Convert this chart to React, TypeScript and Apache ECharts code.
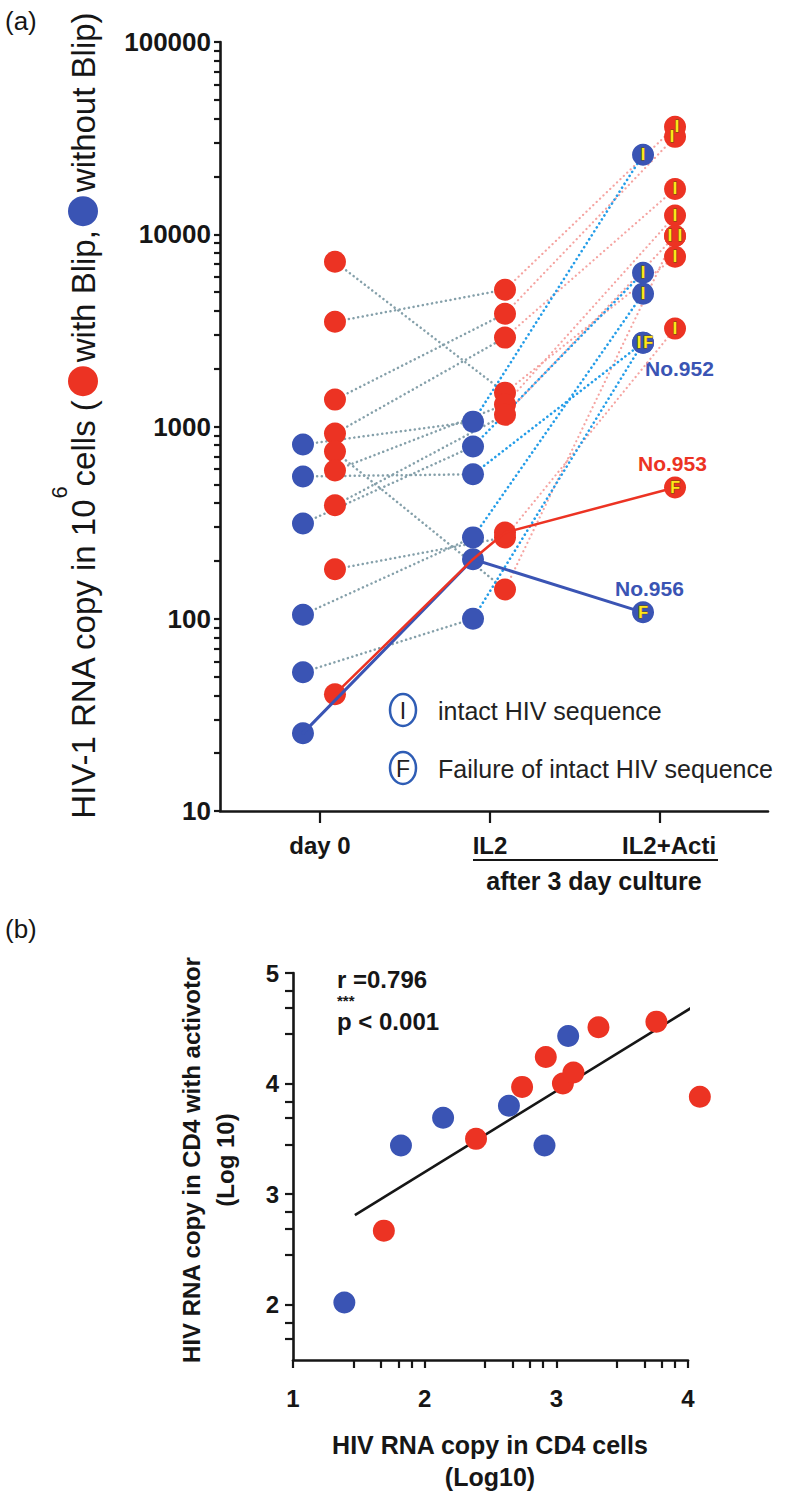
import React, { useEffect, useRef } from 'react';
import * as echarts from 'echarts';

const FONT = "'Liberation Sans', Arial, Helvetica, sans-serif";

// ---------------- Panel (a) data ----------------
const stageLabels = ['day 0', 'IL2', 'IL2+Acti'];
const stageValues = [1, 2, 3];
const aYTickLabels = [10, 100, 1000, 10000, 100000];

// patients without Blip (blue)
const blueDay0 = [806, 550, 313, 105, 52.7, 25.4];
const blueIL2 = [1060, 564, 787, 265, 100, 204];
const blueActi = [25900, 2730, 6300, 4910, 2730, 108];
const blueSeq = ['I', 'I', 'I', 'I', 'F', 'F'];

// patients with Blip (red)
const redDay0 = [7195, 3510, 1380, 920, 741, 591, 389, 181, 40.5];
const redIL2 = [1500, 5150, 3860, 2900, 142, 1300, 1150, 265, 281];
const redActi = [7640, 36200, 32100, 17200, 9800, 12500, 9800, 3230, 482];
const redSeq = ['I', 'I', 'I', 'I', 'I', 'I', 'I', 'I', 'F'];

const caseLabels = ['No.952', 'No.953', 'No.956'];
const legendLetters = ['I', 'F'];
const legendTexts = ['intact HIV sequence', 'Failure of intact HIV sequence'];
const cultureText = 'after 3 day culture';

// ---------------- Panel (b) data ----------------
const blueLogDay0 = [1.39, 1.82, 2.14, 2.64, 2.91, 3.09];
const blueLogActi = [2.02, 3.44, 3.69, 3.8, 3.44, 4.43];
const redLogDay0 = [1.69, 2.39, 2.74, 2.92, 3.05, 3.13, 3.32, 3.76, 4.09];
const redLogActi = [2.67, 3.5, 3.97, 4.24, 4.0, 4.1, 4.51, 4.56, 3.88];
const fitX = [1.47, 4.1];
const fitY = [2.81, 4.74];
const bXTickLabels = [1, 2, 3, 4];
const bYTickLabels = [2, 3, 4, 5];
const bXMinor = [0.46, 0.67, 0.8, 0.9];
const bYMinor = [0.45, 0.69, 0.84];
const statR = 'r =0.796';
const statP = 'p < 0.001';
const statStars = '***';

// ---------------- layout / style ----------------
const RED = '#ec3323';
const BLUE = '#3a54b4';
const GRAY = '#85a0aa';
const PINK = '#f5a3a0';
const SKY = '#249de8';
const YELLOW = '#ffe81a';
const INK = '#161616';

const A = { left: 220, top: 42, width: 548, height: 769, xMin: 0.412, xMax: 3.635 };
const PX_A = A.width / (A.xMax - A.xMin);
const BLUE_DX = -17 / PX_A;
const RED_DX = 15 / PX_A;
// horizontal label shifts (px) for markers that sit on top of each other
const LABEL_SHIFT_BLUE: Record<number, number> = { 1: -4, 4: 5 };
const LABEL_SHIFT_RED: Record<number, number> = { 1: 2, 2: -3, 4: -5, 6: 5 };
const B = { left: 293, top: 973, width: 395, height: 387 };

const xA = (stage: number, off: number) => stage + off;

const dotted = [0.1, 4.6];

function seg(data: any[], color: string, width: number, type: any, z: number) {
  return {
    type: 'line',
    xAxisIndex: 0,
    yAxisIndex: 0,
    data,
    symbol: 'none',
    showSymbol: false,
    silent: true,
    clip: false,
    z,
    lineStyle: { color, width, type, cap: 'round' },
  };
}

function buildOption() {
  const series: any[] = [];

  // dotted connections
  blueDay0.forEach((v, i) => {
    if (i === 5) return;
    series.push(seg([[xA(1, BLUE_DX), v], [xA(2, BLUE_DX), blueIL2[i]]], GRAY, 2.5, dotted, 1));
  });
  redDay0.forEach((v, i) => {
    if (i === 8) return;
    series.push(seg([[xA(1, RED_DX), v], [xA(2, RED_DX), redIL2[i]]], GRAY, 2.5, dotted, 1));
  });
  redIL2.forEach((v, i) => {
    if (i === 8) return;
    series.push(seg([[xA(2, RED_DX), v], [xA(3, RED_DX), redActi[i]]], PINK, 2.2, dotted, 1));
  });
  blueIL2.forEach((v, i) => {
    if (i === 5) return;
    series.push(seg([[xA(2, BLUE_DX), v], [xA(3, BLUE_DX), blueActi[i]]], SKY, 2.6, dotted, 1));
  });

  // markers day 0 / IL2
  const blueDots: any[] = [];
  blueDay0.forEach((v, i) => {
    blueDots.push([xA(1, BLUE_DX), v]);
    blueDots.push([xA(2, BLUE_DX), blueIL2[i]]);
  });
  const redDots: any[] = [];
  redDay0.forEach((v, i) => {
    redDots.push([xA(1, RED_DX), v]);
    redDots.push([xA(2, RED_DX), redIL2[i]]);
  });
  series.push({
    type: 'scatter', xAxisIndex: 0, yAxisIndex: 0, data: blueDots, symbolSize: 22,
    itemStyle: { color: BLUE, opacity: 1 }, z: 2, silent: true, clip: false,
  });
  series.push({
    type: 'scatter', xAxisIndex: 0, yAxisIndex: 0, data: redDots, symbolSize: 22,
    itemStyle: { color: RED, opacity: 1 }, z: 2, silent: true, clip: false,
  });

  // solid paths No.956 and No.953
  series.push(seg([
    [xA(1, BLUE_DX), blueDay0[5]], [xA(2, BLUE_DX), blueIL2[5]], [xA(3, BLUE_DX), blueActi[5]],
  ], BLUE, 3, 'solid', 3));
  series.push(seg([
    [xA(1, RED_DX), redDay0[8]], [xA(2, BLUE_DX), blueIL2[5]], [xA(2, RED_DX), redIL2[8]], [xA(3, RED_DX), redActi[8]],
  ], RED, 2.5, 'solid', 3));

  const seqLabel = {
    show: true, position: 'inside', formatter: '{b}', color: YELLOW, fontSize: 16, fontWeight: 'bold',
    fontFamily: FONT, textBorderColor: '#6b5200', textBorderWidth: 1,
  };
  series.push({
    type: 'scatter', xAxisIndex: 0, yAxisIndex: 0, symbolSize: 22, z: 4, silent: true, clip: false,
    itemStyle: { color: BLUE, opacity: 1 },
    data: blueActi.map((v, i) => ({
      name: blueSeq[i], value: [xA(3, BLUE_DX), v],
      label: { offset: [LABEL_SHIFT_BLUE[i] || 0, 0] },
    })),
    label: seqLabel,
  });
  series.push({
    type: 'scatter', xAxisIndex: 0, yAxisIndex: 0, symbolSize: 22, z: 4, silent: true, clip: false,
    itemStyle: { color: RED, opacity: 1 },
    data: redActi.map((v, i) => ({
      name: redSeq[i], value: [xA(3, RED_DX), v],
      label: { offset: [LABEL_SHIFT_RED[i] || 0, 0] },
    })),
    label: seqLabel,
  });

  // ---- panel (b) series ----
  series.push({
    type: 'line', xAxisIndex: 1, yAxisIndex: 1, data: fitX.map((x, i) => [x, fitY[i]]),
    symbol: 'none', showSymbol: false, clip: false, silent: true, z: 1,
    lineStyle: { color: INK, width: 2.6 },
  });
  series.push({
    type: 'scatter', xAxisIndex: 1, yAxisIndex: 1, symbolSize: 22, clip: false, silent: true, z: 2,
    itemStyle: { color: BLUE, opacity: 1 },
    data: blueLogDay0.map((x, i) => [x, blueLogActi[i]]),
  });
  series.push({
    type: 'scatter', xAxisIndex: 1, yAxisIndex: 1, symbolSize: 22, clip: false, silent: true, z: 2,
    itemStyle: { color: RED, opacity: 1 },
    data: redLogDay0.map((x, i) => [x, redLogActi[i]]),
  });

  // tick values
  const aYTicks: number[] = [];
  for (let d = 0; d < aYTickLabels.length - 1; d++) {
    for (let k = 1; k <= 9; k++) aYTicks.push(aYTickLabels[d] * k);
  }
  aYTicks.push(aYTickLabels[aYTickLabels.length - 1]);

  const bXTicks: number[] = [];
  bXTickLabels.forEach((t) => {
    bXTicks.push(t);
    if (t < 4) bXMinor.forEach((m) => bXTicks.push(t + m));
  });
  const bYTicks: number[] = [];
  [1, 2, 3, 4].forEach((t) => bYMinor.forEach((m) => { if (t + m >= 1.5) bYTicks.push(t + m); }));
  bYTickLabels.forEach((t) => bYTicks.push(t));

  const axisLine = { show: true, onZero: false, lineStyle: { color: INK, width: 2.6 } };
  const tickStyle = { color: INK, width: 2.2 };
  const bold24 = { color: INK, fontSize: 24, fontWeight: 'bold', fontFamily: FONT };

  const graphic: any[] = [];
  const txt = (x: number, y: number, text: string, style: any, extra: any = {}) =>
    graphic.push({ type: 'text', x, y, silent: true, ...extra, style: { text, fontFamily: FONT, fill: INK, ...style } });

  txt(5, 21, '(a)', { fontSize: 26, verticalAlign: 'middle' });
  txt(5, 929, '(b)', { fontSize: 26, verticalAlign: 'middle' });

  // y title (a) with coloured dots
  graphic.push({
    type: 'text', x: 83, y: 416, rotation: Math.PI / 2, silent: true,
    style: {
      text: '{t|HIV-1 RNA copy in 10}{s|6}{t|cells (}{g| }{r| }{g| }{t|with Blip,}{g| }{b| }{g| }{t|without Blip)}',
      align: 'center', verticalAlign: 'middle', fontFamily: FONT,
      rich: {
        t: { fontSize: 33, fontFamily: FONT, fill: INK, lineHeight: 70 },
        s: { fontSize: 22, fontFamily: FONT, fill: INK, lineHeight: 22, verticalAlign: 'top' },
        g: { fontSize: 14, width: 4 },
        r: { width: 30, height: 30, backgroundColor: RED, borderRadius: 15, fontSize: 10 },
        b: { width: 30, height: 30, backgroundColor: BLUE, borderRadius: 15, fontSize: 10 },
      },
    },
  });

  // case labels
  txt(645, 368, caseLabels[0], { fontSize: 21, fontWeight: 'bold', fill: BLUE, verticalAlign: 'middle' });
  txt(638, 463, caseLabels[1], { fontSize: 21, fontWeight: 'bold', fill: RED, verticalAlign: 'middle' });
  txt(615, 588, caseLabels[2], { fontSize: 21, fontWeight: 'bold', fill: BLUE, verticalAlign: 'middle' });

  // legend
  [710, 768].forEach((cy, i) => {
    graphic.push({
      type: 'ellipse', silent: true, shape: { cx: 403, cy, rx: 13, ry: 16 },
      style: { fill: '#fff', stroke: '#2f5db5', lineWidth: 2.5 },
    });
    txt(403, cy + 1, legendLetters[i], { fontSize: 23, align: 'center', verticalAlign: 'middle', fill: '#222' });
    txt(438, cy + 1, legendTexts[i], { fontSize: 25, verticalAlign: 'middle', fill: '#222' });
  });

  // culture bracket
  graphic.push({
    type: 'line', silent: true, shape: { x1: 473, y1: 860, x2: 718, y2: 860 },
    style: { stroke: INK, lineWidth: 2 },
  });
  txt(594, 881, cultureText, { fontSize: 25, fontWeight: 'bold', align: 'center', verticalAlign: 'middle' });

  // panel (b) titles
  graphic.push({
    type: 'text', x: 208, y: 1160, rotation: Math.PI / 2, silent: true,
    style: {
      text: 'HIV RNA copy in CD4 with activotor\n(Log 10)', fontFamily: FONT, fontSize: 24, fontWeight: 'bold',
      fill: INK, align: 'center', verticalAlign: 'middle', lineHeight: 34,
    },
  });
  graphic.push({
    type: 'text', x: 490, y: 1461, silent: true,
    style: {
      text: 'HIV RNA copy in CD4 cells\n(Log10)', fontFamily: FONT, fontSize: 25, fontWeight: 'bold',
      fill: INK, align: 'center', verticalAlign: 'middle', lineHeight: 32,
    },
  });
  txt(337, 979, statR, { fontSize: 24, fontWeight: 'bold', verticalAlign: 'middle' });
  txt(337, 1021, statP, { fontSize: 24, fontWeight: 'bold', verticalAlign: 'middle' });
  txt(337, 1000, statStars, { fontSize: 15, fontWeight: 'bold', verticalAlign: 'middle' });

  return {
    animation: false,
    backgroundColor: '#ffffff',
    textStyle: { fontFamily: FONT },
    grid: [
      { left: A.left, top: A.top, width: A.width, height: A.height, containLabel: false, outerBoundsMode: 'none' },
      { left: B.left, top: B.top, width: B.width, height: B.height, containLabel: false, outerBoundsMode: 'none' },
    ],
    xAxis: [
      {
        gridIndex: 0, type: 'value', min: A.xMin, max: A.xMax,
        axisLine, splitLine: { show: false },
        axisTick: { show: true, customValues: stageValues, length: 12, lineStyle: tickStyle },
        axisLabel: {
          customValues: stageValues, margin: 22, ...bold24,
          formatter: (v: number) => {
            const i = Math.round(v) - 1;
            return i === 2 ? '{r|' + stageLabels[i] + '}' : stageLabels[i];
          },
          rich: { r: { ...bold24, padding: [0, 0, 0, 18] } },
        },
      },
      {
        gridIndex: 1, type: 'value', min: 1, max: 4,
        axisLine, splitLine: { show: false },
        axisTick: { show: true, customValues: bXTicks, length: 8, lineStyle: tickStyle },
        axisLabel: { customValues: bXTickLabels, margin: 26, ...bold24, formatter: (v: number) => String(Math.round(v)) },
      },
    ],
    yAxis: [
      {
        gridIndex: 0, type: 'log', logBase: 10, min: 10, max: 100000,
        axisLine, splitLine: { show: false }, minorTick: { show: false },
        axisTick: { show: true, customValues: aYTicks, length: 6, lineStyle: tickStyle },
        axisLabel: {
          customValues: aYTickLabels, margin: 9, color: INK, fontSize: 26, fontWeight: 'bold', fontFamily: FONT,
          formatter: (v: number) => String(Math.round(v)),
        },
      },
      {
        gridIndex: 1, type: 'value', min: 1.5, max: 5,
        axisLine, splitLine: { show: false },
        axisTick: { show: true, customValues: bYTicks, length: 8, lineStyle: tickStyle },
        axisLabel: { customValues: bYTickLabels, margin: 14, ...bold24, formatter: (v: number) => String(Math.round(v)) },
      },
    ],
    series,
    graphic,
  };
}

export default function App() {
  const ref = useRef<HTMLDivElement>(null);
  useEffect(() => {
    if (!ref.current) return;
    const chart = echarts.init(ref.current, null, { renderer: 'svg' });
    chart.setOption(buildOption() as any);
    return () => chart.dispose();
  }, []);
  return (
    <div
      ref={ref}
      style={{ position: 'absolute', left: 0, top: 0, width: 800, height: 1501, background: '#fff' }}
    />
  );
}
